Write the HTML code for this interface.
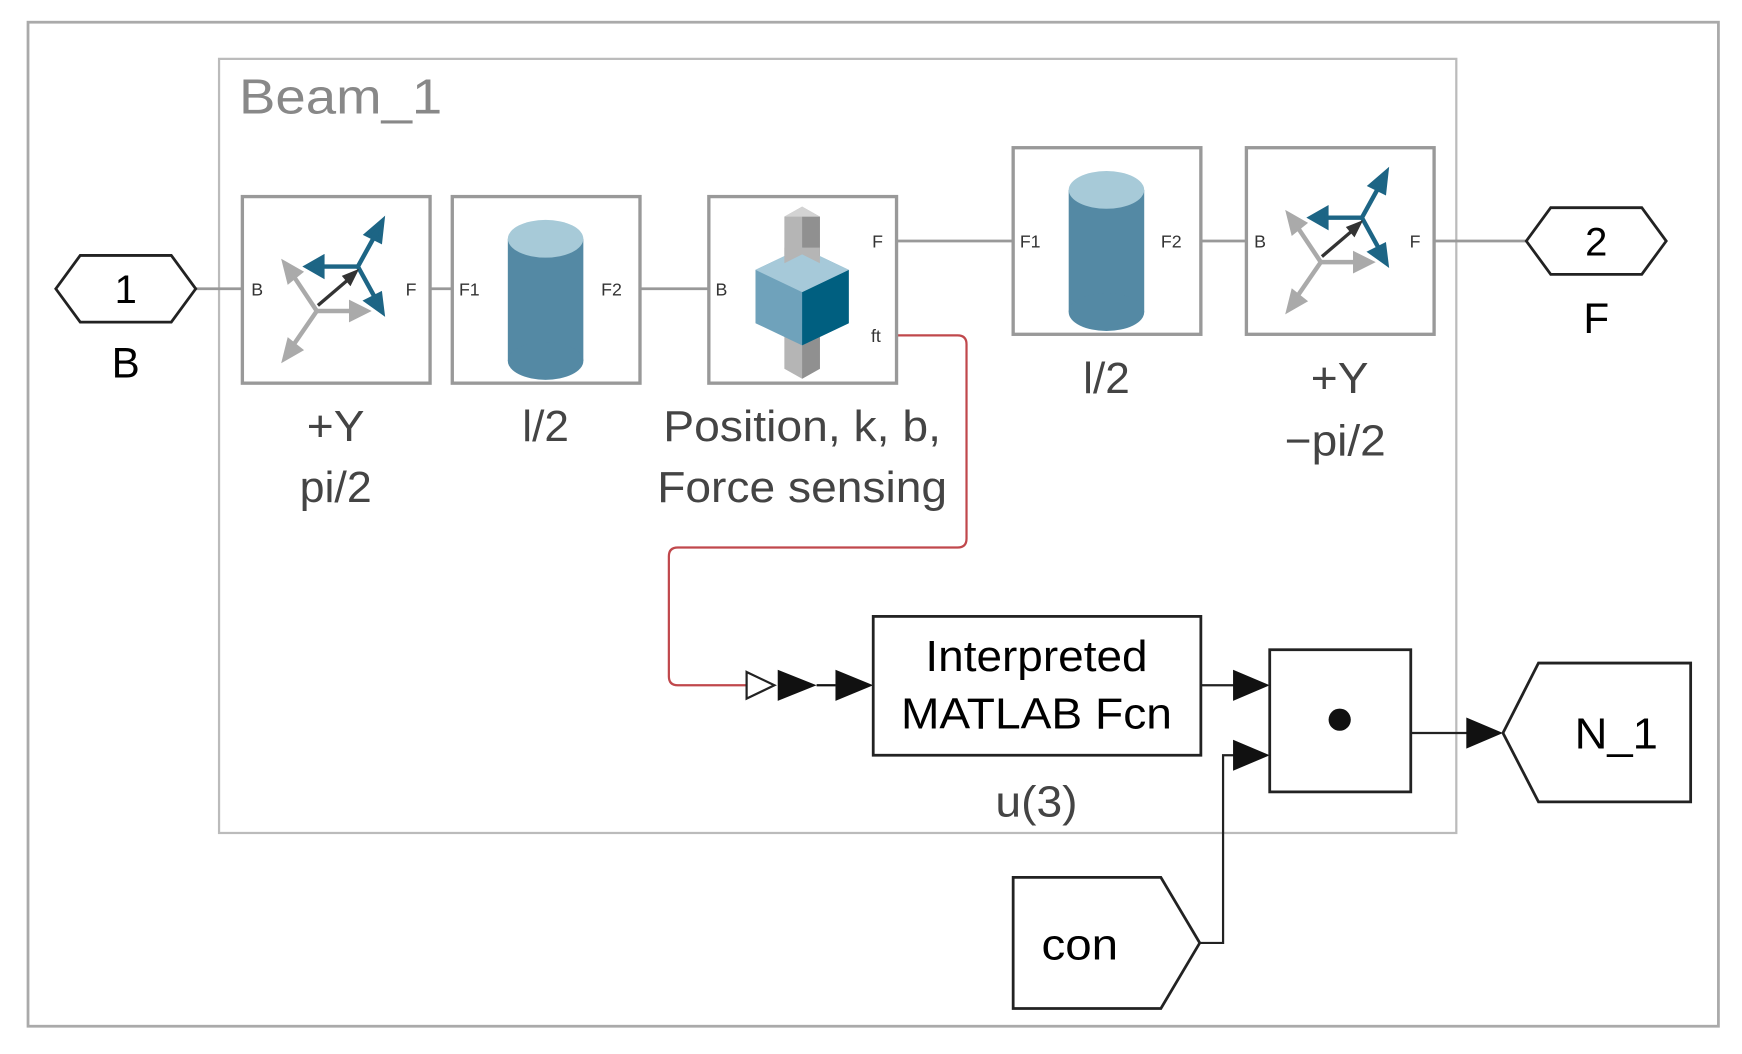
<!DOCTYPE html>
<html><head><meta charset="utf-8"><style>html,body{margin:0;padding:0;background:#fff}svg{display:block}</style></head>
<body>
<svg width="1742" height="1054" viewBox="0 0 1568 949" xmlns="http://www.w3.org/2000/svg" font-family="Liberation Sans, sans-serif">
<defs>
<g id="frame">
  <rect x="0" y="0" width="169" height="168" fill="#fff" stroke="#999" stroke-width="3"/>
  <g stroke="#aaa" stroke-width="4" fill="#aaa">
    <line x1="67" y1="103" x2="45" y2="70"/><path d="M38,60 L52,68 L42,76z"/>
    <line x1="67" y1="103" x2="100" y2="103"/><path d="M112,103 L98,96 L98,110z"/>
    <line x1="67" y1="103" x2="45" y2="135"/><path d="M38,146 L42,130 L52,138z"/>
  </g>
  <g stroke="#1d6585" stroke-width="4" fill="#1d6585">
    <line x1="104" y1="63" x2="120" y2="34"/><path d="M126,22 L124,40 L112,34z"/>
    <line x1="104" y1="63" x2="72" y2="63"/><path d="M58,63 L72,55 L72,71z"/>
    <line x1="104" y1="63" x2="120" y2="92"/><path d="M126,104 L112,94 L124,88z"/>
  </g>
  <line x1="68" y1="98" x2="95" y2="75" stroke="#333" stroke-width="3"/><path d="M102,68 L92,72 L97,78z" fill="#333" stroke="#333" stroke-width="3"/>
</g>
<g id="cyl">
  <rect x="0" y="0" width="169" height="168" fill="#fff" stroke="#999" stroke-width="3"/>
  <rect x="50" y="38" width="68" height="110" fill="#5489a4"/>
  <ellipse cx="84" cy="148" rx="34" ry="17" fill="#5489a4"/>
  <ellipse cx="84" cy="38" rx="34" ry="17" fill="#a7cad8"/>
</g>
</defs>
<rect x="25" y="20" width="1522" height="904" fill="none" stroke="#aaa" stroke-width="2.5"/>
<rect x="197" y="53" width="1114" height="697" fill="none" stroke="#bbb" stroke-width="2"/>
<text x="215" y="102" font-size="44" fill="#888" textLength="183" lengthAdjust="spacingAndGlyphs">Beam_1</text>

<g stroke="#999" stroke-width="2.5">
<line x1="176" y1="260" x2="218" y2="260"/><line x1="387" y1="260" x2="407" y2="260"/>
<line x1="576" y1="260" x2="638" y2="260"/><line x1="807" y1="217" x2="912" y2="217"/>
<line x1="1081" y1="217" x2="1122" y2="217"/><line x1="1291" y1="217" x2="1374" y2="217"/>
</g>
<path d="M807,302 H862 Q870,302 870,310 V485 Q870,493 862,493 H610 Q602,493 602,501 V609 Q602,617 610,617 H672" fill="none" stroke="#c0484c" stroke-width="2"/>

<use href="#frame" x="218" y="177"/>
<use href="#cyl" x="407" y="177"/>
<g transform="translate(638,177)">
  <rect x="0" y="0" width="169" height="168" fill="#fff" stroke="#999" stroke-width="3"/>
  <polygon points="68,18 84,9 100,18 100,155 84,164 68,155" fill="#b5b5b5"/>
  <polygon points="84,18 100,18 100,155 84,164" fill="#909090"/>
  <polygon points="84,18 68,18 84,9 100,18" fill="#d3d3d3"/>
  <polygon points="42,66 84,46 126,66 126,114 84,134 42,114" fill="#6fa2bb"/>
  <polygon points="84,86 126,66 126,114 84,134" fill="#005f80"/>
  <polygon points="42,66 84,46 126,66 84,86" fill="#a6c9d9"/>
  <polygon points="68,60 84,52 100,60 100,46 68,46" fill="#b5b5b5"/>
</g>
<use href="#cyl" x="912" y="133"/>
<use href="#frame" x="1122" y="133"/>

<g font-size="16" fill="#333">
<text x="226" y="266">B</text><text x="365" y="266">F</text>
<text x="413" y="266">F1</text><text x="541" y="266">F2</text>
<text x="644" y="266">B</text><text x="785" y="223">F</text><text x="784" y="308">ft</text>
<text x="918" y="223">F1</text><text x="1045" y="223">F2</text>
<text x="1129" y="223">B</text><text x="1269" y="223">F</text>
</g>

<polygon points="50,260 72,230 154,230 176,260 154,290 72,290" fill="#fff" stroke="#222" stroke-width="2.5"/>
<text x="113" y="273" font-size="36" text-anchor="middle">1</text>
<text x="113" y="340" font-size="38" text-anchor="middle">B</text>
<polygon points="1374,217 1396,187 1478,187 1500,217 1478,247 1396,247" fill="#fff" stroke="#222" stroke-width="2.5"/>
<text x="1437" y="230" font-size="36" text-anchor="middle">2</text>
<text x="1437" y="300" font-size="38" text-anchor="middle">F</text>

<g font-size="39" fill="#444" text-anchor="middle" lengthAdjust="spacingAndGlyphs">
<text x="302" y="397" textLength="52" lengthAdjust="spacingAndGlyphs">+Y</text>
<text x="302" y="452" textLength="65" lengthAdjust="spacingAndGlyphs">pi/2</text>
<text x="491" y="397" textLength="42" lengthAdjust="spacingAndGlyphs">l/2</text>
<text x="722" y="397" textLength="250" lengthAdjust="spacingAndGlyphs">Position, k, b,</text>
<text x="722" y="452" textLength="261" lengthAdjust="spacingAndGlyphs">Force sensing</text>
<text x="996" y="354" textLength="42" lengthAdjust="spacingAndGlyphs">l/2</text>
<text x="1206" y="354" textLength="52" lengthAdjust="spacingAndGlyphs">+Y</text>
<text x="1202" y="410" textLength="91" lengthAdjust="spacingAndGlyphs">−pi/2</text>
<text x="933" y="735" textLength="74" lengthAdjust="spacingAndGlyphs">u(3)</text>
</g>

<polygon points="672,605 697,617 672,629" fill="#fff" stroke="#222" stroke-width="2"/>
<polygon points="700,603 735,617 700,631" fill="#111"/>
<line x1="735" y1="617" x2="752" y2="617" stroke="#111" stroke-width="2"/>
<polygon points="752,603 786,617 752,631" fill="#111"/>
<rect x="786" y="555" width="295" height="125" fill="#fff" stroke="#222" stroke-width="2.5"/>
<text x="933" y="604" font-size="39" text-anchor="middle" textLength="200" lengthAdjust="spacingAndGlyphs">Interpreted</text>
<text x="933" y="656" font-size="39" text-anchor="middle" textLength="244" lengthAdjust="spacingAndGlyphs">MATLAB Fcn</text>

<line x1="1081" y1="617" x2="1112" y2="617" stroke="#222" stroke-width="2"/>
<polygon points="1110,603 1143,617 1110,631" fill="#111"/>
<polyline points="1080,849 1101,849 1101,680 1112,680" fill="none" stroke="#222" stroke-width="2"/>
<polygon points="1110,666 1143,680 1110,694" fill="#111"/>
<rect x="1143" y="585" width="127" height="128" fill="#fff" stroke="#222" stroke-width="2.5"/>
<circle cx="1206" cy="648" r="10" fill="#111"/>
<line x1="1270" y1="660" x2="1322" y2="660" stroke="#222" stroke-width="2"/>
<polygon points="1320,646 1353,660 1320,674" fill="#111"/>
<polygon points="1353,660 1385,597 1522,597 1522,722 1385,722" fill="#fff" stroke="#222" stroke-width="2.5"/>
<text x="1455" y="674" font-size="39" text-anchor="middle" textLength="75" lengthAdjust="spacingAndGlyphs">N_1</text>
<polygon points="912,790 1045,790 1080,849 1045,908 912,908" fill="#fff" stroke="#222" stroke-width="2.5"/>
<text x="972" y="864" font-size="39" text-anchor="middle" textLength="69" lengthAdjust="spacingAndGlyphs">con</text>
</svg>
</body></html>
